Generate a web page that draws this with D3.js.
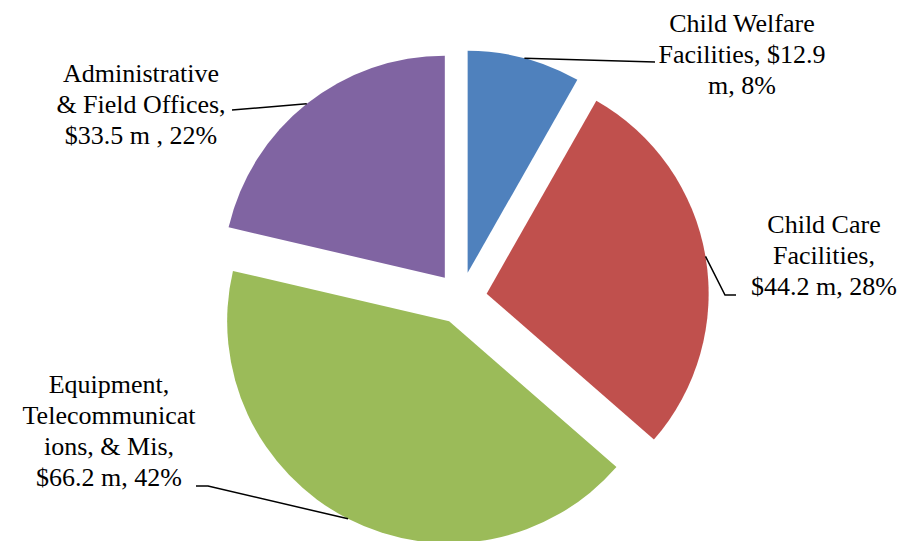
<!DOCTYPE html>
<html>
<head>
<meta charset="utf-8">
<script src="https://cdn.jsdelivr.net/npm/d3@7"></script>
<style>
  html, body { margin: 0; padding: 0; background: #fff; }
  svg { display: block; }
  .lbl { font-family: "Liberation Serif", serif; font-size: 26px; fill: #000; }
</style>
</head>
<body>
<svg id="chart" width="911" height="541"></svg>
<script>
// exploded pie: capital spending by category
const categories = ['Child Welfare Facilities', 'Child Care Facilities', 'Equipment, Telecommunications, & Mis', 'Administrative & Field Offices'];
const values = [12.9, 44.2, 66.2, 33.5];
const colors = ['#4F81BD', '#C0504D', '#9BBB59', '#8064A2'];
const labelText = [
  ['Child Welfare', 'Facilities, $12.9', 'm, 8%'],
  ['Child Care', 'Facilities,', '$44.2 m, 28%'],
  ['Equipment,', 'Telecommunicat', 'ions, & Mis,', '$66.2 m, 42%'],
  ['Administrative', '& Field Offices,', '$33.5 m , 22%']
];

// label placement (centre x, first baseline) and leader line end points
const labelPos = [
  { x: 742, y: 32, leader: [[655, 62]] },
  { x: 824, y: 233, leader: [[725, 295], [736, 295]] },
  { x: 109, y: 393, leader: [[208, 486], [196, 486]] },
  { x: 141, y: 82, leader: [[232, 110]] }
];

const svg = d3.select('#chart');
const cx = 461, cy = 298, radius = 222, explode = 26, lineGap = 31;

const pie = d3.pie().sort(null).value(d => d);
const arcs = pie(values);
const arc = d3.arc().innerRadius(0).outerRadius(radius);

const g = svg.append('g').attr('transform', `translate(${cx},${cy})`);

arcs.forEach((a, i) => {
  const mid = (a.startAngle + a.endAngle) / 2;
  const ox = Math.sin(mid) * explode;
  const oy = -Math.cos(mid) * explode;
  g.append('path')
    .attr('d', arc(a))
    .attr('fill', colors[i])
    .attr('transform', `translate(${ox},${oy})`);

  // leader line from the outer edge at the slice middle
  const sx = cx + ox + Math.sin(mid) * radius;
  const sy = cy + oy - Math.cos(mid) * radius;
  const pts = [[sx, sy]].concat(labelPos[i].leader);
  svg.append('path')
    .attr('d', d3.line()(pts))
    .attr('fill', 'none')
    .attr('stroke', '#000')
    .attr('stroke-width', 1.5);
});

labelText.forEach((lines, i) => {
  const t = svg.append('text')
    .attr('class', 'lbl')
    .attr('text-anchor', 'middle');
  lines.forEach((line, j) => {
    t.append('tspan')
      .attr('x', labelPos[i].x)
      .attr('y', labelPos[i].y + j * lineGap)
      .text(line);
  });
});
</script>
</body>
</html>
